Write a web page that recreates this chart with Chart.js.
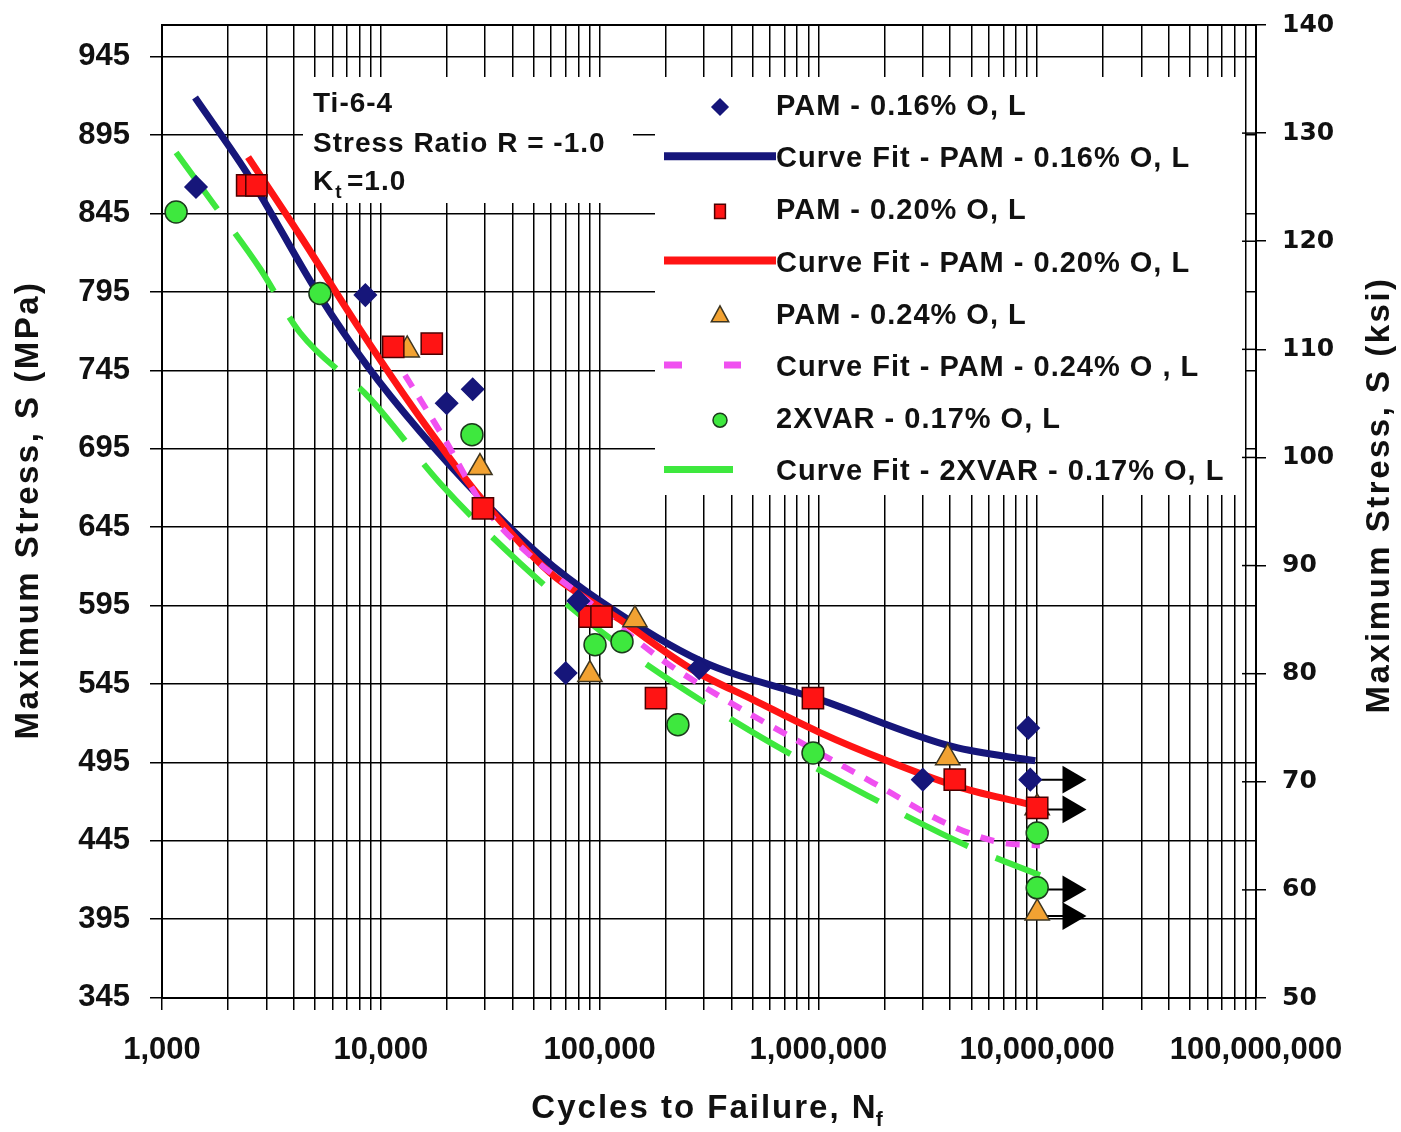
<!DOCTYPE html>
<html>
<head>
<meta charset="utf-8">
<title>Ti-6-4 S-N data</title>
<script src="https://cdn.jsdelivr.net/npm/chart.js@4/dist/chart.umd.min.js"></script>
<style>
  html, body { margin: 0; padding: 0; background: #fff; }
  #chart { display: block; }
</style>
</head>
<body>
<canvas id="chart" width="1401" height="1132"></canvas>
<script>
// values: cycles to failure N, max stress S in MPa
const pam16N = [1430, 8500, 20000, 26300, 70000, 80000, 285000, 3.0e6, 9.1e6, 9.3e6];
const pam16S = [862, 793, 724, 733, 552, 598, 555, 484, 517, 484];

const pam20N = [2450, 2700, 11400, 17100, 29300, 90000, 102000, 181000, 944000, 4.2e6, 1.0e7];
const pam20S = [863, 863, 760, 762, 657, 588, 588, 536, 536, 484, 466];

const pam24N = [13200, 28400, 90300, 145000, 3.9e6, 1.0e7, 1.0e7];
const pam24S = [758, 683, 551, 586, 498, 466, 399];

const var17N = [1160, 5270, 26100, 95300, 126600, 228000, 945000, 1.0e7, 1.0e7];
const var17S = [846, 794, 704, 570, 572, 519, 501, 450, 415];

// curve fits, sampled along the drawn lines
const fit16N = [1416, 2520, 5165, 8650, 15100, 29300, 53400, 100400, 287500, 1.016e6, 4.12e6, 9.8e6];
const fit16S = [919, 868, 794, 748, 706, 662, 627, 598, 560, 535, 505, 496];

const fit20N = [2474, 4275, 8040, 15100, 29300, 59300, 124000, 267000, 502000, 1.016e6, 2.06e6, 4.44e6, 1.01e7];
const fit20S = [881, 831, 771, 715, 662, 616, 586, 554, 535, 514, 496, 479, 467];

const fit24N = [12900, 19600, 29300, 48100, 81300, 195000, 355000, 798000, 1.78e6, 3.99e6, 6.76e6, 1.03e7];
const fit24S = [742, 701, 659, 627, 602, 560, 537, 509, 482, 455, 444, 442];

const fitVarN = [1160, 1745, 2804, 4275, 8930, 18660, 43300, 100400, 416000, 1.72e6, 4.93e6, 1.03e7];
const fitVarS = [884, 850, 810, 769, 727, 673, 622, 579, 521, 473, 441, 423];

// run-outs (no failure) marked with an arrow
const runoutS = [484, 465, 414, 397];
const runoutFrom = 1.0e7;
const runoutTo = 1.42e7;

// axes
const mpaTicks = [345, 395, 445, 495, 545, 595, 645, 695, 745, 795, 845, 895, 945];
const ksiMin = 50, ksiMax = 140, ksiStep = 10;
const MPA_PER_KSI = 6.894757;
const decades = [1e3, 1e4, 1e5, 1e6, 1e7];

const NAVY = '#16167a';
const RED = '#ff1414';
const ORANGE = '#f2a232';
const MAGENTA = '#f050f0';
const GREEN = '#3ee83e';

const xy = (ns, ss) => ns.map((n, i) => ({ x: n, y: ss[i] }));

const xTicks = [];
decades.forEach(d => { for (let k = 1; k < 10; k++) xTicks.push(k * d); });
xTicks.push(1e8);
const isDecade = v => Math.abs(Math.log10(v) - Math.round(Math.log10(v))) < 1e-9;

const runoutData = [];
runoutS.forEach(s => {
  runoutData.push({ x: runoutFrom, y: s }, { x: runoutTo, y: s }, { x: runoutTo, y: null });
});

function pointSet(label, ns, ss, style, fill, stroke, r, lr) {
  return {
    label, data: xy(ns, ss), showLine: false, order: 0,
    pointStyle: style, pointRadius: r, pointBackgroundColor: fill,
    pointBorderColor: stroke, pointBorderWidth: 1.5,
    legendRadius: lr
  };
}
function fitSet(label, ns, ss, color, width, dash, order, legendDash, legendTo) {
  return {
    label, data: xy(ns, ss), showLine: true, order,
    borderColor: color, borderWidth: width, borderDash: dash,
    pointRadius: 0, cubicInterpolationMode: 'monotone', fill: false,
    legendDash, legendTo, isFit: true
  };
}

const datasets = [
  pointSet('PAM - 0.16% O, L', pam16N, pam16S, 'rectRot', NAVY, NAVY, 11, 8),
  fitSet('Curve Fit - PAM - 0.16% O, L', fit16N, fit16S, NAVY, 7, [], 5, [], 776),
  pointSet('PAM - 0.20% O, L', pam20N, pam20S, 'rect', RED, '#4a0000', 15, 9),
  fitSet('Curve Fit - PAM - 0.20% O, L', fit20N, fit20S, RED, 7, [], 4, [], 776),
  pointSet('PAM - 0.24% O, L', pam24N, pam24S, 'triangle', ORANGE, '#3d3520', 14, 10),
  fitSet('Curve Fit - PAM - 0.24% O , L', fit24N, fit24S, MAGENTA, 6, [14, 12], 3, [18, 42], 741),
  pointSet('2XVAR - 0.17% O, L', var17N, var17S, 'circle', GREEN, '#1c3a1c', 11, 7),
  fitSet('Curve Fit - 2XVAR - 0.17% O, L', fitVarN, fitVarS, GREEN, 6, [70, 30], 2, [], 733),
  {
    label: '', data: runoutData, showLine: true, spanGaps: false, order: 1,
    borderColor: '#000', borderWidth: 2,
    pointStyle: 'triangle', pointRotation: 90,
    pointRadius: c => (c.dataIndex % 3 === 1 ? 16 : 0),
    pointBackgroundColor: '#000', pointBorderColor: '#000', pointBorderWidth: 0,
    noLegend: true
  }
];

const BOLD = '"Liberation Sans", Arial, sans-serif';

function drawMarker(ctx, style, x, y, r) {
  ctx.beginPath();
  if (style === 'rectRot') {
    ctx.moveTo(x, y - r); ctx.lineTo(x + r, y); ctx.lineTo(x, y + r); ctx.lineTo(x - r, y);
  } else if (style === 'rect') {
    ctx.rect(x - r * 0.6, y - r * 0.8, r * 1.2, r * 1.6);
  } else if (style === 'triangle') {
    ctx.moveTo(x, y - r); ctx.lineTo(x + r * 0.87, y + r * 0.6); ctx.lineTo(x - r * 0.87, y + r * 0.6);
  } else {
    ctx.arc(x, y, r, 0, Math.PI * 2);
  }
  ctx.closePath();
  ctx.fill();
  ctx.stroke();
}

// no extra room for edge labels: keep the plot box where the original has it
const noEdgePad = s => { s.paddingTop = 0; s.paddingBottom = 0; s.paddingLeft = 0; s.paddingRight = 0; };

// white note + legend panels over the grid, frame, inner ticks on the ksi axis
const panels = {
  id: 'panels',
  beforeDatasetsDraw(chart) {
    const { ctx, chartArea: a } = chart;
    ctx.save();
    ctx.fillStyle = '#fff';
    ctx.fillRect(303, 77, 330, 126);
    ctx.fillRect(655, 77, 590, 418);
    ctx.strokeStyle = '#000';
    ctx.lineWidth = 2;
    ctx.beginPath();
    ctx.moveTo(a.left, a.top); ctx.lineTo(a.right, a.top);
    ctx.stroke();
    const y2 = chart.scales.y2;
    ctx.lineWidth = 1.5;
    y2.ticks.forEach(t => {
      const py = y2.getPixelForValue(t.value);
      ctx.beginPath(); ctx.moveTo(a.right - 14, py); ctx.lineTo(a.right, py); ctx.stroke();
    });
    ctx.restore();
  },
  afterDraw(chart) {
    const { ctx } = chart;
    ctx.save();
    ctx.fillStyle = '#111';
    ctx.textBaseline = 'alphabetic';
    ctx.textAlign = 'left';

    // note
    ctx.font = 'bold 28px ' + BOLD;
    ctx.letterSpacing = '1px';
    ctx.fillText('Ti-6-4', 313, 112);
    ctx.fillText('Stress Ratio R = -1.0', 313, 152);
    ctx.fillText('K', 313, 190);
    let kw = ctx.measureText('K').width;
    ctx.font = 'bold 19px ' + BOLD;
    ctx.fillText('t', 313 + kw + 1, 198);
    ctx.font = 'bold 28px ' + BOLD;
    ctx.fillText('=1.0', 347, 190);

    // legend
    const rows = chart.data.datasets.filter(d => !d.noLegend);
    const mx = 720, tx = 776;
    rows.forEach((d, i) => {
      const y = 107 + i * 52.2;
      if (d.isFit) {
        ctx.save();
        ctx.strokeStyle = d.borderColor;
        ctx.lineWidth = d.borderWidth + 1;
        ctx.setLineDash(d.legendDash);
        ctx.beginPath(); ctx.moveTo(664, y - 3); ctx.lineTo(d.legendTo, y - 3); ctx.stroke();
        ctx.restore();
      } else {
        ctx.fillStyle = d.pointBackgroundColor;
        ctx.strokeStyle = d.pointBorderColor;
        ctx.lineWidth = 1.5;
        drawMarker(ctx, d.pointStyle, mx, y, d.legendRadius);
      }
      ctx.fillStyle = '#111';
      ctx.font = 'bold 29px ' + BOLD;
      ctx.letterSpacing = '1px';
      ctx.textBaseline = 'middle';
      ctx.fillText(d.label, tx, y);
    });

    // axis titles
    ctx.font = 'bold 33px ' + BOLD;
    ctx.textBaseline = 'middle';
    ctx.textAlign = 'center';
    ctx.letterSpacing = '2.5px';
    ctx.save();
    ctx.translate(29, 510); ctx.rotate(-Math.PI / 2);
    ctx.fillText('Maximum Stress, S (MPa)', 0, 0);
    ctx.restore();
    ctx.save();
    ctx.translate(1380, 495); ctx.rotate(-Math.PI / 2);
    ctx.fillText('Maximum Stress, S (ksi)', 0, 0);
    ctx.restore();

    ctx.textAlign = 'left';
    ctx.textBaseline = 'alphabetic';
    ctx.letterSpacing = '2px';
    const main = 'Cycles to Failure, N';
    const w1 = ctx.measureText(main).width;
    ctx.font = 'bold 21px ' + BOLD;
    const w2 = ctx.measureText('f').width;
    const x0 = 709 - (w1 + w2) / 2;
    ctx.font = 'bold 33px ' + BOLD;
    ctx.fillText(main, x0, 1118);
    ctx.font = 'bold 21px ' + BOLD;
    ctx.fillText('f', x0 + w1 - 2, 1126);
    ctx.restore();
  }
};

new Chart(document.getElementById('chart'), {
  type: 'scatter',
  data: { datasets },
  options: {
    responsive: false,
    animation: false,
    layout: { padding: { top: 25, left: 0, right: 0, bottom: 0 } },
    plugins: { legend: { display: false }, tooltip: { enabled: false } },
    scales: {
      x: {
        type: 'logarithmic', min: 1e3, max: 1e8, position: 'bottom',
        afterBuildTicks: s => { s.ticks = xTicks.map(v => ({ value: v, major: isDecade(v) })); },
        afterFit: s => { s.height = 134; noEdgePad(s); },
        ticks: {
          autoSkip: false, maxRotation: 0, minRotation: 0, padding: 22, color: '#111',
          font: { family: BOLD, size: 31, weight: 'bold' },
          callback: v => (isDecade(v) ? Math.round(v).toLocaleString('en-US') : '')
        },
        grid: { color: '#000', lineWidth: 1.5, tickLength: 12, tickColor: '#000' },
        border: { color: '#000', width: 2 }
      },
      y: {
        position: 'left', min: ksiMin * MPA_PER_KSI, max: ksiMax * MPA_PER_KSI,
        afterBuildTicks: s => { s.ticks = mpaTicks.map(v => ({ value: v })); },
        afterFit: s => { s.width = 162; noEdgePad(s); },
        ticks: {
          padding: 20, color: '#111',
          font: { family: BOLD, size: 31, weight: 'bold' },
          callback: v => String(v)
        },
        grid: { color: '#000', lineWidth: 1.5, tickLength: 12, tickColor: '#000' },
        border: { color: '#000', width: 2 }
      },
      y2: {
        position: 'right', min: ksiMin, max: ksiMax,
        afterFit: s => { s.width = 145; noEdgePad(s); },
        ticks: {
          stepSize: ksiStep, padding: 16, color: '#111',
          font: { family: '"DejaVu Sans", Verdana, sans-serif', size: 25, weight: 'bold' }
        },
        grid: { drawOnChartArea: false, tickLength: 10, color: '#000', lineWidth: 1.5 },
        border: { color: '#000', width: 2 }
      }
    }
  },
  plugins: [panels]
});
</script>
</body>
</html>
